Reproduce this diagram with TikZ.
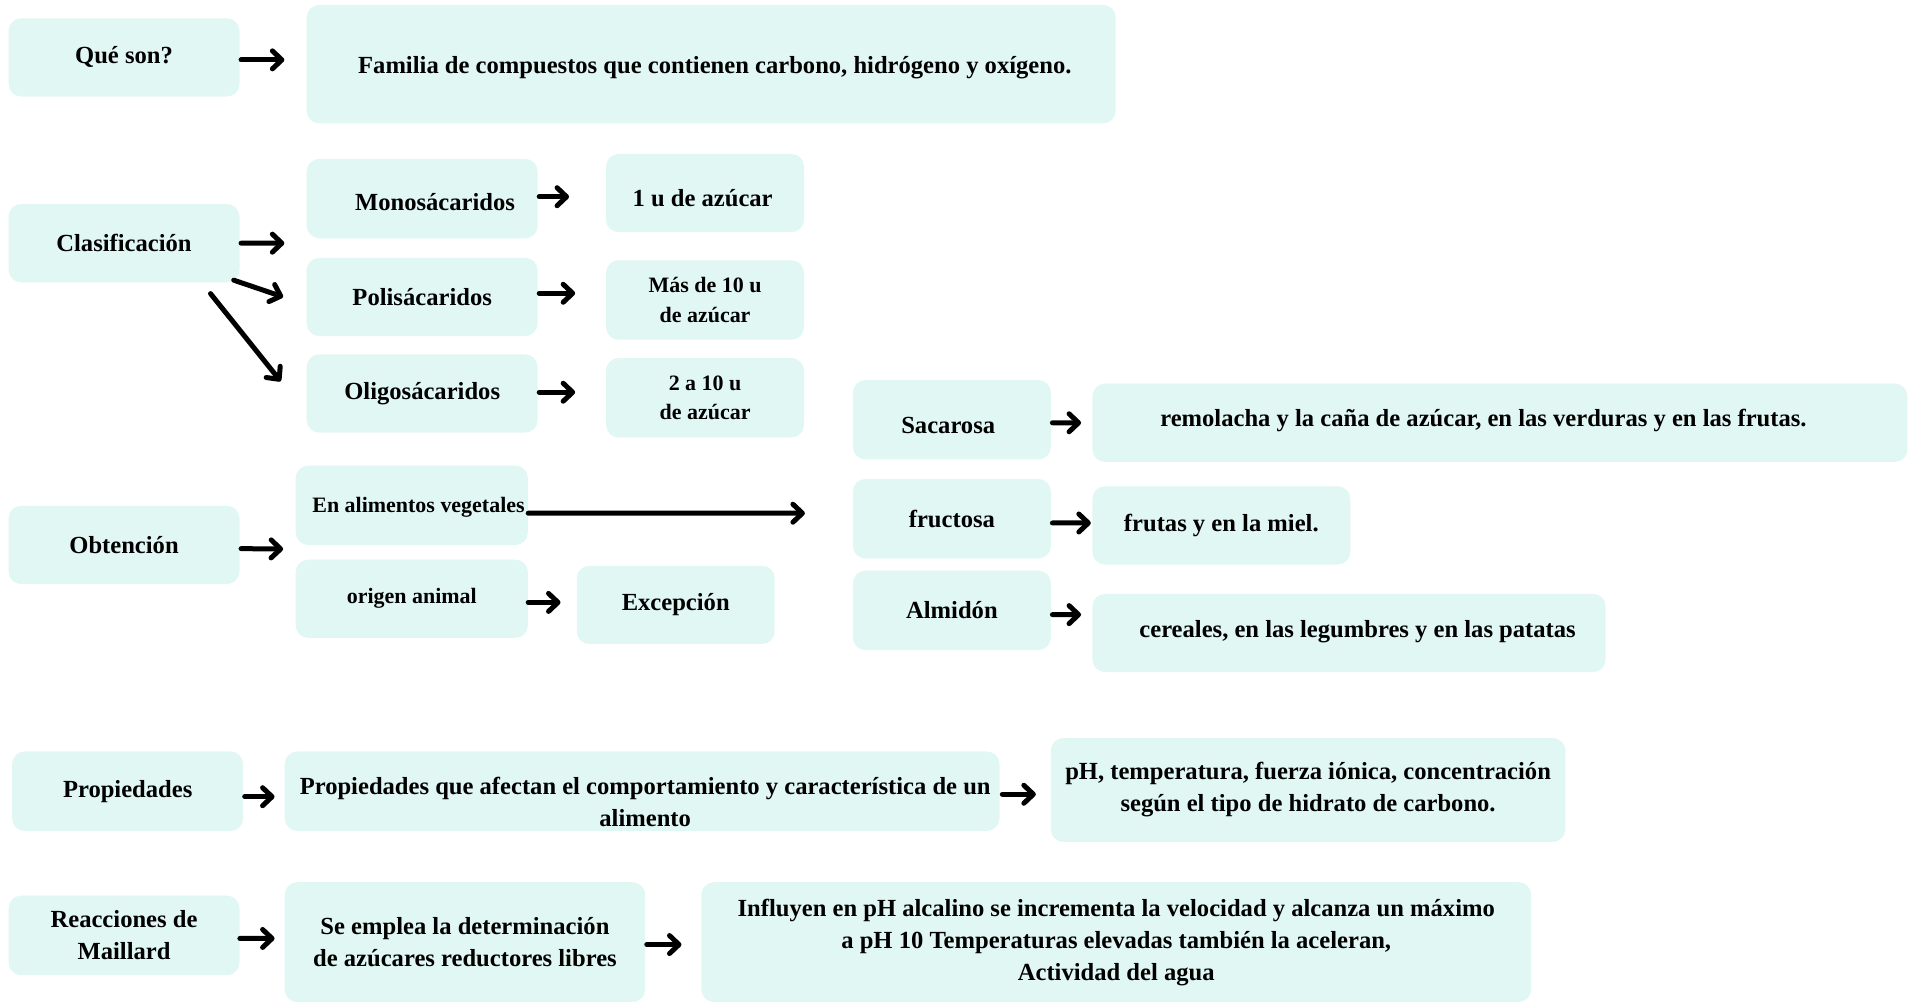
\documentclass[tikz,border=0pt]{standalone}
\usepackage{fontspec}
\setmainfont{Liberation Serif}
\usetikzlibrary{arrows.meta}

\definecolor{boxfill}{RGB}{224,247,243}
\newlength\spx
\setlength\spx{0.024438cm}

\tikzset{
  box/.style={fill=boxfill, rounded corners=0.25cm, align=center, inner sep=0pt,
    font=\bfseries\fontsize{14}{18.2}\selectfont},
  txt/.style={box, fill=none},
  small/.style={font=\bfseries\fontsize{12.5}{16.8}\selectfont},
  arr/.style={-{Straight Barb[round,length=0.19cm,width=0.36cm]}, line width=0.1cm, line cap=round},
}

\begin{document}
\begin{tikzpicture}[x=0.024438cm, y=-0.024438cm]
    \useasboundingbox (0,0) rectangle (1568,821);

    % What they are
    \node[box, minimum width=189*\spx, minimum height=64*\spx] (que) at (101.5,47) {Qué son?};
    \node[box, minimum width=662*\spx, minimum height=97*\spx] (fam) at (582,52.5) {};
    \node[txt] (famText) at (585,55) {Familia de compuestos que contienen carbono, hidrógeno y oxígeno.};

    % Classification
    \node[box, minimum width=189*\spx, minimum height=64*\spx] (clas) at (101.5,199) {Clasificación};
    \node[box, minimum width=189*\spx, minimum height=65*\spx] (mono) at (345.5,162.5) {};
    \node[txt] (monoText) at (356,165) {Monosácaridos};
    \node[box, minimum width=189*\spx, minimum height=64*\spx] (poli) at (345.5,243) {Polisácaridos};
    \node[box, minimum width=189*\spx, minimum height=64*\spx] (oligo) at (345.5,322) {Oligosácaridos};
    \node[box, minimum width=162*\spx, minimum height=64*\spx] (uno) at (577,158) {};
    \node[txt] (unoText) at (575,162) {1 u de azúcar};
    \node[box, small, minimum width=162*\spx, minimum height=65*\spx] (mas) at (577,245.5) {Más de 10 u\\de azúcar};
    \node[box, small, minimum width=162*\spx, minimum height=65*\spx] (dos) at (577,325.5) {2 a 10 u\\de azúcar};

    % Sources
    \node[box, minimum width=189*\spx, minimum height=64*\spx] (obt) at (101.5,446) {Obtención};
    \node[box, minimum width=190*\spx, minimum height=65*\spx] (veg) at (337,413.5) {};
    \node[txt, small] (vegText) at (342.5,415) {En alimentos vegetales};
    \node[box, small, minimum width=190*\spx, minimum height=64*\spx] (ani) at (337,490) {origen animal};
    \node[box, minimum width=162*\spx, minimum height=64*\spx] (exc) at (553,495) {Excepción};
    \node[box, minimum width=162*\spx, minimum height=65*\spx] (sac) at (779,343.5) {};
    \node[txt] (sacText) at (776,348) {Sacarosa};
    \node[box, minimum width=162*\spx, minimum height=65*\spx] (fru) at (779,424.5) {fructosa};
    \node[box, minimum width=162*\spx, minimum height=65*\spx] (alm) at (779,499.5) {Almidón};
    \node[box, minimum width=667*\spx, minimum height=64*\spx] (rem) at (1227.5,346) {};
    \node[txt] (remText) at (1214,344) {remolacha y la caña de azúcar, en las verduras y en las frutas.};
    \node[box, minimum width=211*\spx, minimum height=64*\spx] (miel) at (999.5,430) {frutas y en la miel.};
    \node[box, minimum width=420*\spx, minimum height=64*\spx] (cer) at (1104,518) {};
    \node[txt] (cerText) at (1111,517) {cereales, en las legumbres y en las patatas};

    % Properties
    \node[box, minimum width=189*\spx, minimum height=65*\spx] (prop) at (104.5,647.5) {Propiedades};
    \node[box, minimum width=585*\spx, minimum height=65*\spx] (afe) at (525.5,647.5) {};
    \node[txt] (afeText) at (528,656)
        {Propiedades que afectan el comportamiento y característica de un\\alimento};
    \node[box, minimum width=421*\spx, minimum height=85*\spx] (ph) at (1070.5,646.5)
        {pH, temperatura, fuerza iónica, concentración\\según el tipo de hidrato de carbono.};

    % Maillard
    \node[box, minimum width=189*\spx, minimum height=65*\spx] (mai) at (101.5,765.5) {Reacciones de\\Maillard};
    \node[box, minimum width=295*\spx, minimum height=98*\spx] (emp) at (380.5,771)
        {Se emplea la determinación\\de azúcares reductores libres};
    \node[box, minimum width=679*\spx, minimum height=98*\spx] (inf) at (913.5,771)
        {Influyen en pH alcalino se incrementa la velocidad y alcanza un máximo\\a pH 10 Temperaturas elevadas también la aceleran,\\Actividad del agua};

    % Arrows
    \draw[arr] ([shift={(1,2)}]que.east) -- ([shift={(-18,-3.5)}]fam.west);
    \draw[arr] ([shift={(1,0)}]clas.east) -- ([shift={(-18,36.5)}]mono.west);
    \draw[arr] ([shift={(-5,-2)}]clas.south east) -- ([shift={(-19,0)}]poli.west);
    \draw[arr] ([shift={(-24,9)}]clas.south east) -- ([shift={(-21,-10)}]oligo.west);
    \draw[arr] ([shift={(1,-1.5)}]mono.east) -- ([shift={(-30,3)}]uno.west);
    \draw[arr] ([shift={(1,-3)}]poli.east) -- ([shift={(-25,-5.5)}]mas.west);
    \draw[arr] ([shift={(1,-1)}]oligo.east) -- ([shift={(-25,-4.5)}]dos.west);
    \draw[arr] ([shift={(1,3)}]obt.east) -- ([shift={(-10,3)}]veg.south west);
    \draw[arr] ([shift={(0,6.5)}]veg.east) -- ([shift={(-39,-4.5)}]fru.west);
    \draw[arr] ([shift={(0,3)}]ani.east) -- ([shift={(-13,-2)}]exc.west);
    \draw[arr] ([shift={(1,2.5)}]sac.east) -- ([shift={(-9,0)}]rem.west);
    \draw[arr] ([shift={(1,3.5)}]fru.east) -- ([shift={(-1,-2)}]miel.west);
    \draw[arr] ([shift={(1,3.5)}]alm.east) -- ([shift={(-9,-15)}]cer.west);
    \draw[arr] ([shift={(1,4.5)}]prop.east) -- ([shift={(-8,4.5)}]afe.west);
    \draw[arr] ([shift={(2,2.5)}]afe.east) -- ([shift={(-12,3.5)}]ph.west);
    \draw[arr] ([shift={(0,2.5)}]mai.east) -- ([shift={(-8,-3)}]emp.west);
    \draw[arr] ([shift={(1,2)}]emp.east) -- ([shift={(-16,2)}]inf.west);
\end{tikzpicture}
\end{document}
